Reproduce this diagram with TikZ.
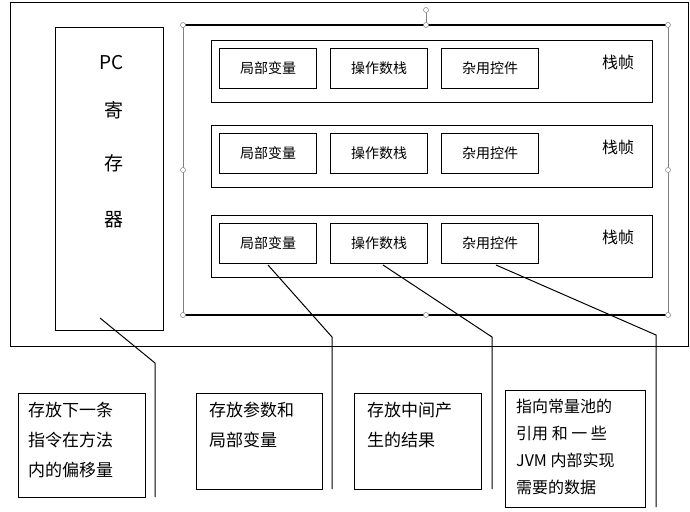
\documentclass[tikz,border=0pt]{standalone}
\usepackage{fontspec}
\setmainfont{Noto Sans CJK SC}
\begin{document}
\begin{tikzpicture}[x=1pt,y=-1pt,
  box/.style={draw,line width=1pt,inner sep=0pt,anchor=north west},
  small/.style={box,minimum width=97pt,minimum height=40pt,font=\fontsize{14}{14}\selectfont},
  frame/.style={box,minimum width=441pt,minimum height=62pt},
  note/.style={box,line width=1pt},
  ntxt/.style={anchor=north west,align=left,inner sep=0pt,font=\fontsize{17}{30}\selectfont},
  handle/.style={circle,draw=gray,fill=white,inner sep=0pt,minimum size=5pt,line width=0.5pt},
  conn/.style={line width=1pt}]
\useasboundingbox (0,0) rectangle (690,511);
\node[box,minimum width=678pt,minimum height=344pt] (outer) at (10,2) {};
\node[box,minimum width=108pt,minimum height=303pt] (pc) at (55,27) {};
\node[font=\fontsize{19}{19}\selectfont] (pct) at (112,63) {PC};
\node[font=\fontsize{19}{19}\selectfont] (pc1) at (114,110) {寄};
\node[font=\fontsize{19}{19}\selectfont] (pc2) at (114,163) {存};
\node[font=\fontsize{19}{19}\selectfont] (pc3) at (114,220) {器};
% selection frame
\coordinate (tl) at (183,25); \coordinate (tr) at (668,25);
\coordinate (bl) at (183,315); \coordinate (br) at (668,315);
\draw[line width=1.5pt] (tl) -- (tr);
\draw[line width=1.5pt] (bl) -- (br);
\draw[gray,line width=0.6pt] (tl) -- (bl) (tr) -- (br);
\coordinate (tm) at (426,25);
\node[handle] (rot) at (426,10) {};
\draw[gray] (rot) -- (tm);
\foreach \n/\p in {h1/{(183,25)},h2/{(426,25)},h3/{(668,25)},h4/{(183,170)},h5/{(668,170)},h6/{(183,315)},h7/{(426,315)},h8/{(668,315)}}
  \node[handle] (\n) at \p {};
% frames
\foreach \i/\y in {1/40,2/125,3/215}{
  \node[frame] (f\i) at (211,\y) {};
  \node[small] (a\i) at (219,\y+8) {局部变量};
  \node[small] (b\i) at (330,\y+8) {操作数栈};
  \node[small] (c\i) at (441,\y+8) {杂用控件};
  \node[font=\fontsize{16}{16}\selectfont] (t\i) at (618,\y+22) {栈帧};
}
% notes
\node[note,minimum width=127pt,minimum height=104pt] (n1) at (18,393) {};
\node[ntxt] (n1t) at (28,402) {存放下一条\\指令在方法\\内的偏移量};
\node[note,minimum width=126pt,minimum height=96pt] (n2) at (196,393) {};
\node[ntxt] (n2t) at (209,402) {存放参数和\\局部变量};
\node[note,minimum width=127pt,minimum height=96pt] (n3) at (354,393) {};
\node[ntxt] (n3t) at (367,402) {存放中间产\\生的结果};
\node[note,minimum width=140pt,minimum height=117pt] (n4) at (505,390) {};
\node[ntxt,font=\fontsize{16}{27}\selectfont] (n4t) at (516,399) {指向常量池的\\引用 和 一 些\\JVM 内部实现\\需要的数据};
% connectors
\coordinate (p0) at (100,318); \coordinate (p1) at (155,363); \coordinate (p2) at (155,497);
\draw[conn] (p0) -- (p1) -- (p2);
\coordinate (q0) at (268,265); \coordinate (q1) at (332,337); \coordinate (q2) at (332,489);
\draw[conn] (q0) -- (q1) -- (q2);
\coordinate (r0) at (383,265); \coordinate (r1) at (492,337); \coordinate (r2) at (492,489);
\draw[conn] (r0) -- (r1) -- (r2);
\coordinate (s0) at (496,265); \coordinate (s1) at (656,335); \coordinate (s2) at (656,507);
\draw[conn] (s0) -- (s1) -- (s2);
\end{tikzpicture}
\end{document}
